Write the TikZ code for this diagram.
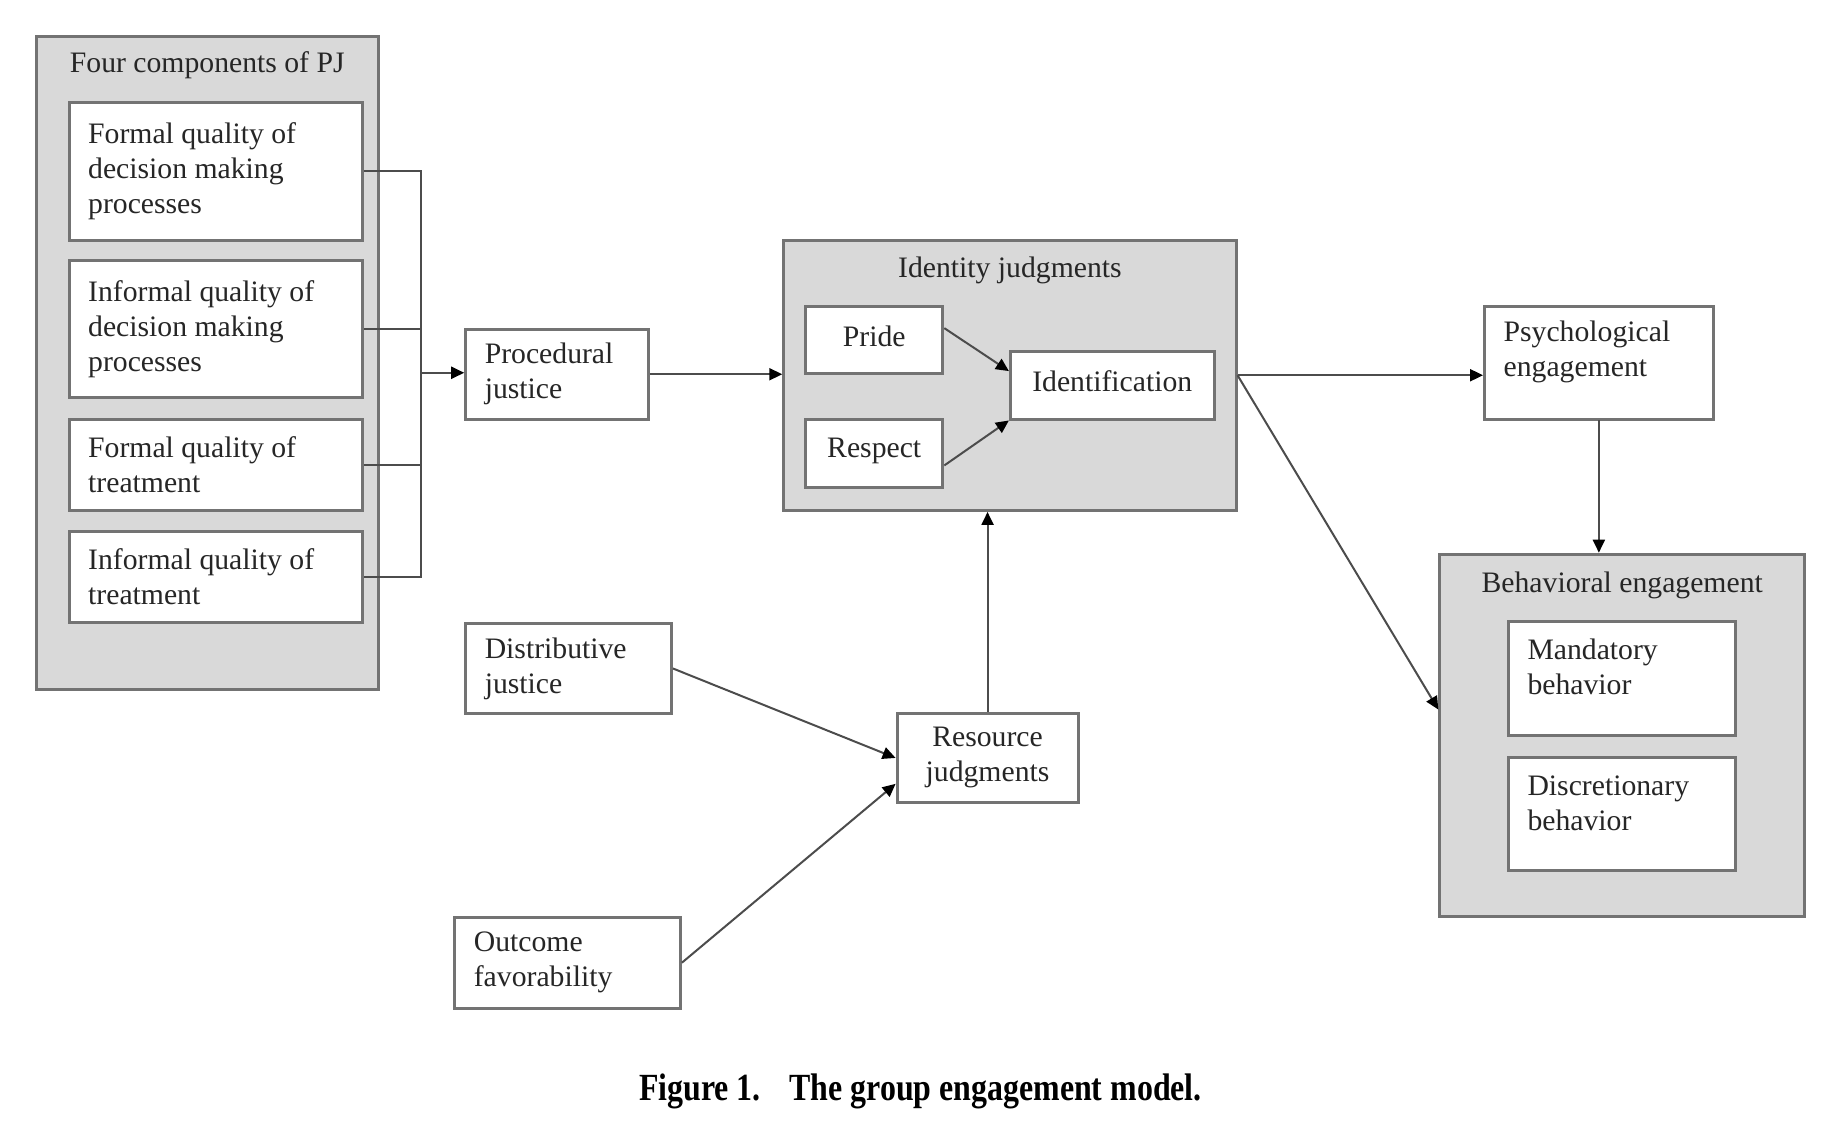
\documentclass[tikz,border=0pt]{standalone}
\usepackage{fontspec}
\setmainfont{Liberation Serif}
\usetikzlibrary{calc,arrows.meta}

\begin{document}
\begin{tikzpicture}[x=0.1mm,y=-0.1mm,scale=0.994,transform shape,
		grp/.style={draw=black!55, fill=black!15, line width=0.3mm, inner sep=0pt, anchor=north west},
		box/.style={draw=black!55, fill=white, line width=0.3mm, inner sep=0pt, anchor=north west},
		txt/.style={text=black!85, font=\fontsize{8.5}{10}\selectfont, inner sep=0pt, align=left},
		conn/.style={draw=black!70, line width=0.2mm},
		arr/.style={conn, -{Triangle[length=1.3mm,width=1.2mm,color=black]}}]
		%%%%% START %%%%%
		
		\useasboundingbox (0,0) rectangle (1848,1141);
		
		% four components of PJ
		\node[grp, minimum width=34.4mm, minimum height=65.7mm] (pj) at (35,35) {};
		\node[txt] (pj-t) at ([yshift=-3.1mm]pj.north) {Four components of PJ};
		
		\node[box, minimum width=29.5mm, minimum height=13.8mm] (b1) at (68,102) {};
		\node[txt, anchor=west] (b1-t) at ([xshift=2mm]b1.west) {Formal quality of\\decision making\\processes};
		\node[box, minimum width=29.5mm, minimum height=13.7mm] (b2) at (68,261) {};
		\node[txt, anchor=west] (b2-t) at ([xshift=2mm]b2.west) {Informal quality of\\decision making\\processes};
		\node[box, minimum width=29.5mm, minimum height=9.2mm] (b3) at (68,420) {};
		\node[txt, anchor=west] (b3-t) at ([xshift=2mm]b3.west) {Formal quality of\\treatment};
		\node[box, minimum width=29.5mm, minimum height=9.2mm] (b4) at (68,533) {};
		\node[txt, anchor=west] (b4-t) at ([xshift=2mm]b4.west) {Informal quality of\\treatment};
		
		\node[box, minimum width=18.4mm, minimum height=9mm] (proc) at (467,330) {};
		\node[txt, anchor=west] (proc-t) at ([xshift=2mm]proc.west) {Procedural\\justice};
		
		% identity judgments
		\node[grp, minimum width=45.5mm, minimum height=27.2mm] (ident) at (787,240) {};
		\node[txt] (ident-t) at ([yshift=-3.2mm]ident.north) {Identity judgments};
		\node[box, minimum width=13.8mm, minimum height=6.7mm] (pride) at (809,307) {};
		\node[txt] (pride-t) at ([yshift=0.4mm]pride.center) {Pride};
		\node[box, minimum width=13.8mm, minimum height=6.9mm] (resp) at (809,420) {};
		\node[txt] (resp-t) at ([yshift=0.2mm]resp.center) {Respect};
		\node[box, minimum width=20.5mm, minimum height=6.8mm] (idf) at (1015,352) {};
		\node[txt] (idf-t) at ([yshift=0.4mm]idf.center) {Identification};
		
		% engagement
		\node[box, minimum width=23mm, minimum height=11.3mm] (psych) at (1492,307) {};
		\node[txt, anchor=west] (psych-t) at ([xshift=2mm,yshift=-4.7mm]psych.north west) {Psychological\\engagement};
		\node[grp, minimum width=36.7mm, minimum height=36.4mm] (behav) at (1447,556) {};
		\node[txt] (behav-t) at ([yshift=-3.3mm]behav.north) {Behavioral engagement};
		\node[box, minimum width=22.8mm, minimum height=11.4mm] (mand) at (1516,624) {};
		\node[txt, anchor=west] (mand-t) at ([xshift=2mm,yshift=-4.7mm]mand.north west) {Mandatory\\behavior};
		\node[box, minimum width=22.8mm, minimum height=11.3mm] (disc) at (1516,761) {};
		\node[txt, anchor=west] (disc-t) at ([xshift=2mm,yshift=-4.7mm]disc.north west) {Discretionary\\behavior};
		
		% resource side
		\node[box, minimum width=20.7mm, minimum height=9mm] (dist) at (467,626) {};
		\node[txt, anchor=west] (dist-t) at ([xshift=2mm]dist.west) {Distributive\\justice};
		\node[box, minimum width=22.7mm, minimum height=9.2mm] (outc) at (456,921) {};
		\node[txt, anchor=west] (outc-t) at ([xshift=2mm]outc.west) {Outcome\\favorability};
		\node[box, minimum width=18.2mm, minimum height=9mm] (res) at (901,716) {};
		\node[txt, align=center] (res-t) at (res) {Resource\\judgments};
		
		% connectors
		\coordinate (bus) at (424,375);
		\draw[conn] (b1.east) -- (b1.east -| bus) -- (b4.east -| bus) -- (b4.east);
		\draw[conn] (b2.east) -- (b2.east -| bus);
		\draw[conn] (b3.east) -- (b3.east -| bus);
		\draw[arr] (bus) -- (bus -| proc.west);
		\draw[arr] (proc.east) -- (proc.east -| ident.west);
		\draw[arr] ($(pride.north east)!0.33!(pride.south east)$) -- ($(idf.north west)!0.3!(idf.south west)$);
		\draw[arr] ($(resp.north east)!0.67!(resp.south east)$) -- (idf.south west);
		\draw[arr] (ident.east) -- (ident.east -| psych.west);
		\draw[arr] (ident.east) -- ($(behav.north west)!0.43!(behav.south west)$);
		\draw[arr] (psych.south) -- (psych.south |- behav.north);
		\draw[arr] (dist.east) -- (res.west);
		\draw[arr] (outc.east) -- ($(res.north west)!0.78!(res.south west)$);
		\draw[arr] (res.north) -- (res.north |- ident.south);
		
		% caption
		\node (cap) at (926,1098) {\bfseries\fontsize{11}{13}\selectfont\scalebox{0.83}[1]{Figure 1.\hspace{0.9em}The group engagement model.}};
		
		%%%%% END %%%%%
\end{tikzpicture}
\end{document}
